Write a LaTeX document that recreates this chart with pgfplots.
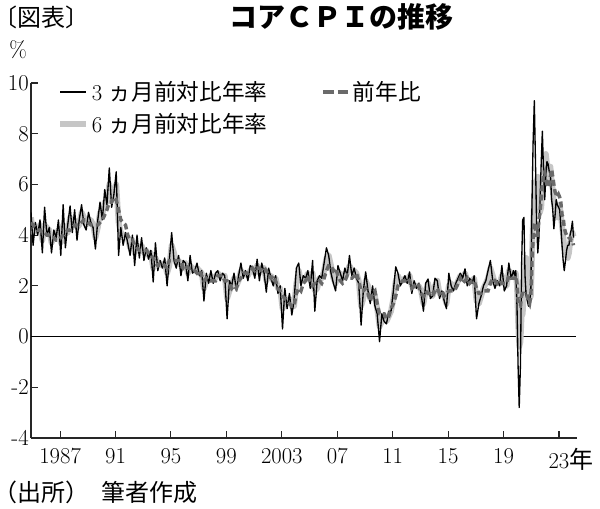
\documentclass[border=0pt]{standalone}
\usepackage{fontspec}
\newfontfamily\jp{Noto Sans CJK JP}
\newfontfamily\jph[RawFeature=+halt]{Noto Sans CJK JP}
\usepackage{pgfplots}
\pgfplotsset{compat=1.18}
\usepackage{pgfplotstable}
\definecolor{sixm}{HTML}{C6C6C6}
\definecolor{yoyc}{HTML}{6A6A6A}

\pgfplotstableread{
x m3 m6 yoy
1985.10 4.9 4.7 4.5
1985.25 3.6 4.1 4.4
1985.42 4.5 4.2 4.3
1985.58 4.0 4.2 4.2
1985.75 4.6 4.4 4.2
1985.92 3.3 3.8 4.1
1986.08 5.1 4.4 4.1
1986.25 4.0 4.3 4.0
1986.42 4.3 4.2 4.0
1986.58 3.3 3.7 3.9
1986.75 4.2 3.9 3.9
1986.92 3.9 4.0 3.8
1987.08 4.6 4.2 3.8
1987.25 3.2 3.7 3.9
1987.42 5.2 4.4 4.0
1987.58 3.5 4.1 4.1
1987.75 4.4 4.1 4.2
1987.92 5.15 4.7 4.2
1988.08 4.1 4.4 4.3
1988.25 5.0 4.6 4.4
1988.42 3.8 4.3 4.4
1988.58 4.6 4.4 4.4
1988.75 5.2 4.9 4.5
1988.92 4.4 4.7 4.6
1989.08 4.2 4.4 4.6
1989.25 4.9 4.6 4.5
1989.42 4.5 4.6 4.4
1989.58 4.3 4.4 4.4
1989.75 3.45 3.9 4.4
1989.92 4.6 4.3 4.4
1990.08 5.3 4.9 4.5
1990.25 4.6 4.8 4.6
1990.42 5.8 5.3 4.8
1990.58 5.2 5.3 5.0
1990.75 6.65 6.0 5.3
1990.92 5.1 5.5 5.3
1991.08 5.6 5.5 5.5
1991.25 6.5 6.0 5.4
1991.42 3.2 4.5 5.0
1991.58 4.3 4.1 4.6
1991.75 3.6 4.0 4.5
1991.92 4.1 4.0 4.4
1992.08 3.7 3.9 4.0
1992.25 3.2 3.5 3.8
1992.42 4.0 3.8 3.8
1992.58 2.8 3.3 3.6
1992.75 4.0 3.6 3.5
1992.92 3.1 3.4 3.4
1993.08 3.9 3.6 3.4
1993.25 3.0 3.3 3.4
1993.42 3.5 3.4 3.4
1993.58 3.05 3.2 3.3
1993.75 3.4 3.3 3.2
1993.92 2.15 2.7 3.1
1994.08 3.7 3.1 2.9
1994.25 2.6 2.9 2.8
1994.42 3.0 2.9 2.9
1994.58 2.7 2.8 2.9
1994.75 3.1 2.9 2.8
1994.92 2.0 2.5 2.7
1995.08 3.0 2.8 3.0
1995.25 4.1 3.6 3.0
1995.42 3.0 3.3 3.0
1995.58 2.7 2.9 3.0
1995.75 3.2 3.0 3.0
1995.92 2.4 2.8 3.0
1996.08 3.0 2.8 2.7
1996.25 2.9 2.9 2.8
1996.42 2.2 2.5 2.7
1996.58 3.2 2.8 2.7
1996.75 2.5 2.7 2.7
1996.92 2.6 2.6 2.6
1997.08 2.9 2.7 2.5
1997.25 2.4 2.6 2.6
1997.42 2.6 2.5 2.4
1997.58 1.4 1.9 2.2
1997.75 2.5 2.2 2.3
1997.92 2.1 2.2 2.2
1998.08 2.6 2.4 2.2
1998.25 2.1 2.3 2.2
1998.42 2.5 2.3 2.2
1998.58 2.6 2.5 2.4
1998.75 2.2 2.4 2.4
1998.92 2.5 2.4 2.4
1999.08 2.4 2.4 2.2
1999.25 0.7 1.5 2.2
1999.42 2.2 1.8 2.1
1999.58 2.0 2.0 1.9
1999.75 2.5 2.3 2.0
1999.92 1.8 2.0 1.9
2000.08 2.4 2.2 2.2
2000.25 2.9 2.6 2.3
2000.42 2.3 2.5 2.5
2000.58 2.6 2.5 2.5
2000.75 2.2 2.4 2.5
2000.92 2.8 2.6 2.6
2001.08 2.7 2.7 2.7
2001.25 2.3 2.5 2.6
2001.42 3.05 2.8 2.7
2001.58 2.2 2.5 2.7
2001.75 2.9 2.7 2.6
2001.92 2.5 2.7 2.7
2002.08 1.75 2.2 2.6
2002.25 2.7 2.4 2.4
2002.42 2.3 2.4 2.3
2002.58 2.0 2.2 2.4
2002.75 2.4 2.3 2.2
2002.92 1.7 1.9 1.9
2003.08 2.0 1.9 1.8
2003.25 0.3 1.1 1.6
2003.42 1.9 1.4 1.5
2003.58 1.1 1.4 1.4
2003.75 1.7 1.5 1.3
2003.92 0.85 1.2 1.2
2004.08 1.4 1.2 1.2
2004.25 2.7 2.1 1.7
2004.42 2.9 2.6 1.9
2004.58 2.0 2.2 1.8
2004.75 2.4 2.2 2.1
2004.92 2.3 2.3 2.2
2005.08 2.6 2.5 2.4
2005.25 1.9 2.2 2.2
2005.42 3.0 2.5 2.0
2005.58 1.0 1.8 2.1
2005.75 2.2 1.9 2.1
2005.92 2.4 2.3 2.2
2006.08 2.3 2.3 2.1
2006.25 2.9 2.6 2.3
2006.42 3.5 3.1 2.6
2006.58 3.2 3.2 2.8
2006.75 2.5 2.8 2.8
2006.92 2.1 2.3 2.6
2007.08 1.8 2.1 2.7
2007.25 2.8 2.5 2.4
2007.42 2.5 2.5 2.2
2007.58 2.2 2.3 2.1
2007.75 2.7 2.5 2.2
2007.92 2.4 2.5 2.4
2008.08 3.2 2.8 2.3
2008.25 2.4 2.6 2.3
2008.42 2.7 2.6 2.4
2008.58 2.3 2.5 2.5
2008.75 2.1 2.2 2.2
2008.92 0.45 1.2 1.8
2009.08 1.8 1.5 1.8
2009.25 2.55 2.2 1.9
2009.42 1.8 2.0 1.7
2009.58 1.3 1.5 1.4
2009.75 2.0 1.8 1.7
2009.92 1.2 1.6 1.8
2010.08 0.9 1.1 1.3
2010.25 -0.2 0.4 0.9
2010.42 0.9 0.6 0.9
2010.58 0.6 0.8 0.9
2010.75 0.5 0.6 0.7
2010.92 1.0 0.8 0.8
2011.08 1.0 1.0 1.1
2011.25 1.8 1.5 1.3
2011.42 2.75 2.2 1.6
2011.58 2.5 2.4 2.0
2011.75 2.0 2.2 2.1
2011.92 2.2 2.2 2.2
2012.08 2.4 2.3 2.2
2012.25 2.1 2.2 2.3
2012.42 2.55 2.4 2.2
2012.58 1.7 2.0 1.9
2012.75 2.2 2.0 2.0
2012.92 1.9 2.0 1.9
2013.08 2.1 2.0 2.0
2013.25 1.7 1.8 1.7
2013.42 1.0 1.3 1.6
2013.58 2.1 1.8 1.8
2013.75 2.27 2.1 1.7
2013.92 1.5 1.7 1.7
2014.08 1.6 1.6 1.6
2014.25 2.3 2.0 1.8
2014.42 2.2 2.2 1.9
2014.58 1.5 1.7 1.7
2014.75 1.8 1.7 1.8
2014.92 1.4 1.6 1.6
2015.08 1.1 1.3 1.7
2015.25 2.5 2.0 1.8
2015.42 2.0 2.1 1.8
2015.58 1.8 1.9 1.8
2015.75 2.1 2.0 1.9
2015.92 2.3 2.2 2.1
2016.08 2.5 2.4 2.3
2016.25 2.3 2.3 2.1
2016.42 2.67 2.5 2.2
2016.58 2.0 2.2 2.3
2016.75 2.3 2.2 2.1
2016.92 2.1 2.2 2.2
2017.08 2.4 2.3 2.2
2017.25 0.7 1.4 1.9
2017.42 1.3 1.3 1.7
2017.58 1.6 1.6 1.7
2017.75 2.0 1.9 1.8
2017.92 2.2 2.1 1.8
2018.08 2.6 2.3 1.8
2018.25 3.0 2.7 2.1
2018.42 2.2 2.4 2.3
2018.58 1.9 2.1 2.2
2018.75 2.2 2.1 2.1
2018.92 2.0 2.1 2.2
2019.08 2.8 2.4 2.1
2019.25 1.8 2.1 2.1
2019.42 2.0 2.0 2.1
2019.58 2.9 2.6 2.4
2019.75 2.3 2.5 2.3
2019.92 2.6 2.5 2.3
2020.00 2.4 2.4 2.3
2020.08 2.6 2.5 2.4
2020.17 1.2 2.0 2.1
2020.25 -1.2 0.6 1.4
2020.33 -2.8 -0.4 1.2
2020.42 -1.1 -0.2 1.2
2020.50 2.8 0.8 1.6
2020.58 4.6 0.9 1.7
2020.67 4.7 1.8 1.7
2020.75 2.4 2.6 1.6
2020.83 1.6 3.1 1.6
2020.92 1.4 3.0 1.6
2021.00 1.2 1.8 1.4
2021.08 1.4 1.5 1.3
2021.17 1.8 1.6 1.6
2021.25 5.2 3.2 3.0
2021.33 7.6 4.5 3.8
2021.42 9.3 5.5 4.5
2021.50 7.0 6.1 4.3
2021.58 4.6 6.1 4.0
2021.67 3.3 6.3 4.0
2021.75 3.9 5.4 4.6
2021.83 5.3 4.9 4.9
2021.92 6.9 5.1 5.5
2022.00 8.1 6.0 6.0
2022.08 6.6 6.0 6.4
2022.17 5.4 6.2 6.5
2022.25 6.3 7.2 6.2
2022.33 6.9 6.8 6.0
2022.42 6.8 6.1 5.9
2022.50 6.5 6.4 5.9
2022.58 6.4 6.7 6.3
2022.67 5.4 6.1 6.6
2022.75 5.0 5.8 6.3
2022.83 4.25 5.3 6.0
2022.92 4.8 5.1 5.7
2023.00 5.4 5.2 5.6
2023.08 5.2 4.7 5.5
2023.17 5.1 4.95 5.6
2023.25 5.0 5.2 5.5
2023.33 4.4 4.8 5.3
2023.42 3.6 4.35 4.8
2023.50 3.0 4.0 4.7
2023.58 2.6 3.5 4.3
2023.67 3.0 3.3 4.1
2023.75 3.4 3.2 4.0
2023.83 3.6 3.1 4.0
2023.92 3.6 3.3 3.9
2024.00 4.0 3.7 3.9
2024.08 4.2 3.9 3.8
2024.17 4.55 4.1 3.8
2024.25 3.9 3.95 3.6
}\cpi

\begin{document}
\begin{tikzpicture}
\begin{axis}[
  at={(23.25pt,53.25pt)}, anchor=south west,
  scale only axis, width=409.5pt, height=266.25pt,
  xmin=1985.1, xmax=2024.5, ymin=-4, ymax=10,
  axis x line*=bottom, axis y line*=left,
  axis line style={line width=0.8pt, black!85},
  xtick={1987.2,1991.2,1995.2,1999.2,2003.2,2007.2,2011.2,2015.2,2019.2,2023.2},
  xticklabels={1987,91,95,99,2003,07,11,15,19,{23\rlap{\jp\fontsize{18}{20}\selectfont 年}}},
  ytick={-4,-2,0,2,4,6,8,10},
  yticklabels={-4,-2,0,2,4,6,8,10},
  tick align=inside,
  major tick length=5.5pt,
  tick style={line width=0.8pt, black!85},
  ticklabel style={font=\fontsize{17}{19}\selectfont},
  xticklabel style={yshift=-4pt},
  yticklabel style={inner sep=1.5pt},
  legend style={draw=none, fill=none, at={(axis description cs:0.04,1.02)}, anchor=north west,
    font=\fontsize{17}{20}\selectfont, legend columns=2,
    /tikz/every even column/.append style={column sep=38pt}, row sep=4pt},
  legend cell align=left,
  legend image code/.code={\draw (0pt,0pt) -- (19pt,0pt);},
]
\draw[line width=0.7pt, black] (axis cs:1985.1,0) -- (axis cs:2024.4,0);
\addplot[forget plot, sixm, line width=4.4pt, line join=round] table[x=x,y=m6] {\cpi};
\addplot[forget plot, black, line width=1pt, line join=round] table[x=x,y=m3] {\cpi};
\addplot[forget plot, yoyc, line width=2.6pt, dash pattern=on 4.5pt off 2.5pt] table[x=x,y=yoy] {\cpi};
\addlegendimage{black, line width=2pt}
\addlegendentry{3\hspace{0.3em}{\jp ヵ月前対比年率}}
\addlegendimage{yoyc, line width=3pt, dash pattern=on 8pt off 3pt}
\addlegendentry{{\jp 前年比}}
\addlegendimage{sixm, line width=5pt}
\addlegendentry{6\hspace{0.3em}{\jp ヵ月前対比年率}}
\end{axis}
\begin{scope}[x=0.75pt, y=-0.75pt, shift={(0pt,381.75pt)}]
\node[anchor=west, inner sep=0] at (5,17) {\jph\fontsize{18}{20}\selectfont 〔図表〕};
\node[inner sep=0] at (341,17) {\jp\bfseries\fontsize{21}{24}\selectfont コアＣＰＩの推移};
\node[inner sep=0] at (18,50) {\fontsize{17}{19}\selectfont\%};
\node[anchor=west, inner sep=0] at (5,492) {\jph\fontsize{18}{20}\selectfont （出所）\hspace{1.0em}筆者作成};
\end{scope}
\pgfresetboundingbox
\path[use as bounding box] (0,0) rectangle (450pt,381.75pt);
\end{tikzpicture}
\end{document}
